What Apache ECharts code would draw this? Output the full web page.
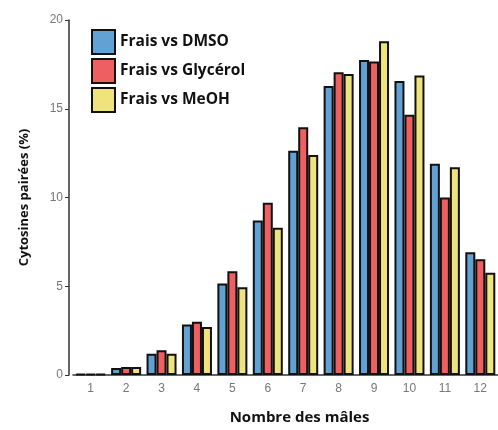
<!DOCTYPE html>
<html><head><meta charset="utf-8">
<script src="https://cdn.jsdelivr.net/npm/echarts@6/dist/echarts.min.js"></script>
<style>html,body{margin:0;padding:0;background:#fff}#c{width:498px;height:430px}</style>
</head><body><div id="c"></div>
<script>
const categories = ['1','2','3','4','5','6','7','8','9','10','11','12'];
const seriesNames = ['Frais vs DMSO','Frais vs Glycérol','Frais vs MeOH'];
const dmso = [0.05, 0.4, 1.2, 2.85, 5.15, 8.7, 12.63, 16.28, 17.75, 16.56, 11.9, 6.92];
const glycerol = [0.05, 0.45, 1.4, 3.0, 5.85, 9.7, 13.96, 17.05, 17.66, 14.66, 10.0, 6.52];
const meoh = [0.05, 0.45, 1.2, 2.7, 4.95, 8.3, 12.39, 16.96, 18.8, 16.87, 11.7, 5.76];
const colors = ['#61a1d3','#ed5f60','#efe37c'];
const yTicks = [0, 5, 10, 15, 20];

const chart = echarts.init(document.getElementById('c'));
const mk = (name, data, i) => ({
  name, type: 'bar', data, barWidth: 10, barGap: '0%',
  itemStyle: { color: colors[i], borderColor: '#111', borderWidth: 2 }
});
chart.setOption({
  animation: false,
  grid: { left: 73, right: -4, top: 20, bottom: 48, containLabel: false },
  legend: {
    orient: 'vertical', left: 86, top: 24, itemWidth: 23, itemHeight: 24, itemGap: 3,
    icon: 'rect',
    itemStyle: { borderColor: '#111', borderWidth: 2 },
    textStyle: { fontFamily: 'Open Sans', fontWeight: 'bold', fontSize: 15.5, color: '#111' },
    data: seriesNames
  },
  xAxis: {
    type: 'category', data: categories,
    name: 'Nombre des mâles', nameLocation: 'middle', nameGap: 35,
    nameTextStyle: { fontFamily: 'Open Sans', fontWeight: 'bold', fontSize: 15, color: '#111', padding: [0,0,0,28] },
    axisLine: { lineStyle: { color: '#333', width: 1.5 } },
    axisTick: { alignWithLabel: true, length: 4, lineStyle: { color: '#333' } },
    axisLabel: { color: '#777', fontSize: 12, margin: 8, fontFamily: 'Liberation Sans' }
  },
  yAxis: {
    type: 'value', min: yTicks[0], max: yTicks[yTicks.length-1], interval: 5, offset: 4,
    name: 'Cytosines pairées (%)', nameLocation: 'middle', nameGap: 38,
    nameTextStyle: { fontFamily: 'Open Sans', fontWeight: 'bold', fontSize: 13, color: '#111' },
    axisLine: { show: true, lineStyle: { color: '#333', width: 1.5 } },
    axisTick: { show: true, length: 4, lineStyle: { color: '#333' } },
    axisLabel: { color: '#777', fontSize: 12, margin: 6, fontFamily: 'Liberation Sans' },
    splitLine: { show: false }
  },
  series: [mk(seriesNames[0], dmso, 0), mk(seriesNames[1], glycerol, 1), mk(seriesNames[2], meoh, 2)]
});
</script></body></html>
